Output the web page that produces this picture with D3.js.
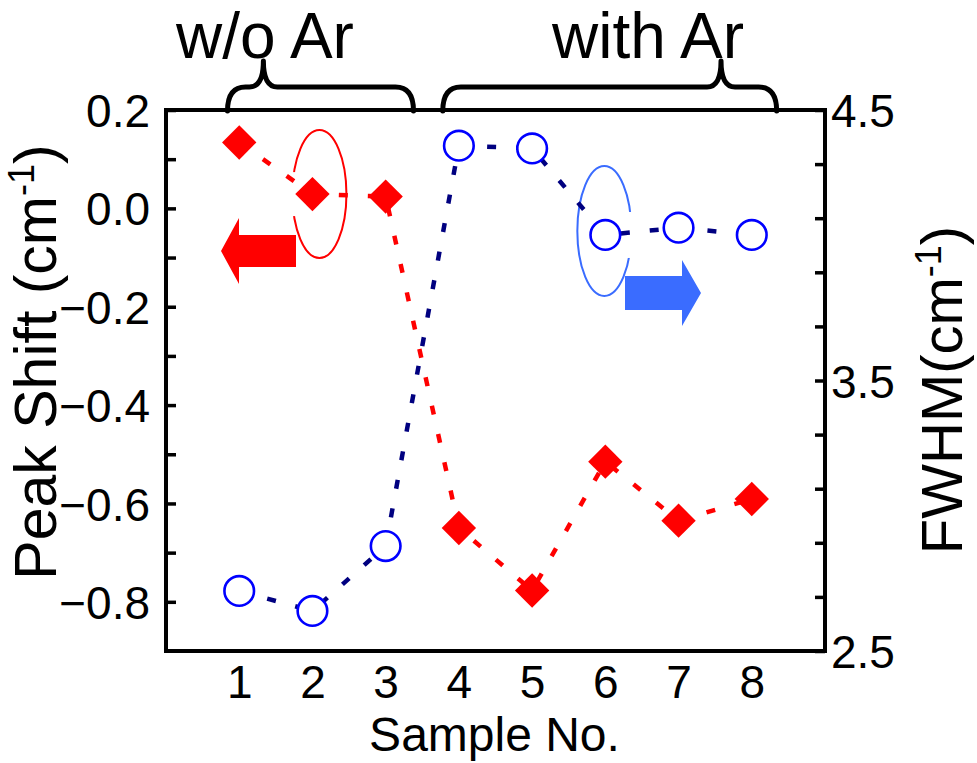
<!DOCTYPE html>
<html>
<head>
<meta charset="utf-8">
<script src="https://cdn.jsdelivr.net/npm/d3@7"></script>
<style>
  html, body { margin: 0; padding: 0; background: #fff; }
  svg { display: block; font-family: "Liberation Sans", Arial, sans-serif; }
</style>
</head>
<body>
<svg id="chart" width="977" height="763"></svg>
<script>
// ---- data ----
const samples   = [1, 2, 3, 4, 5, 6, 7, 8];
const peakShift = [0.134, 0.029, 0.024, -0.650, -0.777, -0.515, -0.635, -0.591];
const fwhm      = [2.722, 2.648, 2.888, 4.368, 4.358, 4.038, 4.065, 4.038];
const xTickLabels = ["1", "2", "3", "4", "5", "6", "7", "8"];
const leftTicks  = [0.2, 0.1, 0.0, -0.1, -0.2, -0.3, -0.4, -0.5, -0.6, -0.7, -0.8];
const leftLabels = [0.2, 0.0, -0.2, -0.4, -0.6, -0.8];
const rightTicks  = [4.5, 4.3, 4.1, 3.9, 3.7, 3.5, 3.3, 3.1, 2.9, 2.7, 2.5];
const rightLabels = [4.5, 3.5, 2.5];
const groups = [
  { label: "w/o Ar",  from: 0.84, to: 3.38, cusp: 1.33 },
  { label: "with Ar", from: 3.78, to: 8.34, cusp: 7.58 }
];

// ---- layout ----
const L = 166, R = 825, T = 110, B = 651;
const svg = d3.select("#chart");

const x  = d3.scaleLinear().domain([0, 9]).range([L, R]);
const yL = d3.scaleLinear().domain([-0.9, 0.2]).range([B, T]);
const yR = d3.scaleLinear().domain([2.5, 4.5]).range([B, T]);

// ---- annotation ellipses (behind data) ----
const redEll = { cx: x(2) + 7, cy: yL(peakShift[1]), rx: 27, ry: 64 };
svg.append("ellipse").attr("cx", redEll.cx).attr("cy", redEll.cy)
  .attr("rx", redEll.rx).attr("ry", redEll.ry)
  .attr("fill", "none").attr("stroke", "#ff0000").attr("stroke-width", 2);
svg.append("rect").attr("x", redEll.cx - redEll.rx - 5).attr("y", redEll.cy - 22)
  .attr("width", 10).attr("height", 44).attr("fill", "#fff");

const bluEll = { cx: x(6) - 1, cy: yR(fwhm[5]) - 4, rx: 27, ry: 65 };
svg.append("ellipse").attr("cx", bluEll.cx).attr("cy", bluEll.cy)
  .attr("rx", bluEll.rx).attr("ry", bluEll.ry)
  .attr("fill", "none").attr("stroke", "#3a6cff").attr("stroke-width", 2);
svg.append("rect").attr("x", bluEll.cx + bluEll.rx - 5).attr("y", yR(fwhm[5]) - 23)
  .attr("width", 10).attr("height", 46).attr("fill", "#fff");

// ---- arrows ----
function arrowPath(tipX, tipY, dir, headLen, headHalf, shaftLen, shaftHalf) {
  const hb = tipX - dir * headLen, tail = hb - dir * shaftLen;
  return `M${tipX},${tipY} L${hb},${tipY - headHalf} L${hb},${tipY - shaftHalf} L${tail},${tipY - shaftHalf}` +
         ` L${tail},${tipY + shaftHalf} L${hb},${tipY + shaftHalf} L${hb},${tipY + headHalf} Z`;
}
svg.append("path").attr("d", arrowPath(221, 251, -1, 18, 33, 57, 16)).attr("fill", "#ff0000");
svg.append("path").attr("d", arrowPath(701, 293, 1, 19, 33, 57, 17)).attr("fill", "#3a6cff");

// ---- lines ----
const redLine = d3.line().x((d, i) => x(samples[i])).y(d => yL(d));
const bluLine = d3.line().x((d, i) => x(samples[i])).y(d => yR(d));

svg.append("path").attr("d", redLine(peakShift)).attr("fill", "none")
  .attr("stroke", "#ff0000").attr("stroke-width", 4.5).attr("stroke-dasharray", "9,20");
svg.append("path").attr("d", bluLine(fwhm)).attr("fill", "none")
  .attr("stroke", "#000080").attr("stroke-width", 4.5).attr("stroke-dasharray", "9,20");

// ---- markers ----
const diamond = d3.symbol().type(d3.symbolSquare).size(590);
svg.selectAll(".dia").data(peakShift).enter().append("path")
  .attr("d", diamond)
  .attr("transform", (d, i) => `translate(${x(samples[i])},${yL(d)}) rotate(45)`)
  .attr("fill", "#ff0000");

svg.selectAll(".circ").data(fwhm).enter().append("circle")
  .attr("cx", (d, i) => x(samples[i])).attr("cy", d => yR(d)).attr("r", 14.8)
  .attr("fill", "#fff").attr("stroke", "#0000ff").attr("stroke-width", 2.6);

// ---- frame ----
svg.append("rect").attr("x", L).attr("y", T).attr("width", R - L).attr("height", B - T)
  .attr("fill", "none").attr("stroke", "#000").attr("stroke-width", 4);

// ---- axes ----
const fmt = d3.format(".1f");
const axL = d3.axisLeft(yL).tickValues(leftTicks).tickSize(-10).tickPadding(16)
  .tickFormat(d => leftLabels.some(v => Math.abs(v - d) < 1e-9) ? fmt(d) : "");
const gL = svg.append("g").attr("transform", `translate(${L},0)`).call(axL);
const axR = d3.axisRight(yR).tickValues(rightTicks).tickSize(-10).tickPadding(6)
  .tickFormat(d => rightLabels.some(v => Math.abs(v - d) < 1e-9) ? fmt(d) : "");
const gR = svg.append("g").attr("transform", `translate(${R},0)`).call(axR);
const axB = d3.axisBottom(x).tickValues(samples).tickSize(0).tickPadding(14)
  .tickFormat((d, i) => xTickLabels[i]);
const gB = svg.append("g").attr("transform", `translate(0,${B})`).call(axB);

[gL, gR, gB].forEach(g => {
  g.select(".domain").remove();
  g.selectAll(".tick line").attr("stroke", "#000").attr("stroke-width", 3.5);
  g.selectAll(".tick text").attr("fill", "#000").style("font-size", "46px")
    .style("font-family", "'Liberation Sans', Arial, sans-serif");
});
gB.selectAll(".tick text").style("font-size", "46px");
gL.selectAll(".tick text").attr("dy", "0.36em");
gR.selectAll(".tick text").attr("dy", "0.36em");
gB.selectAll(".tick text").attr("dy", "0.72em");

// ---- axis titles ----
svg.append("text").attr("x", x(4.5) - 1).attr("y", 751).attr("text-anchor", "middle")
  .style("font-size", "48px").text("Sample No.");

const tL = svg.append("text").attr("transform", `translate(56,362) rotate(-90)`)
  .attr("text-anchor", "middle").style("font-size", "59px");
tL.append("tspan").text("Peak Shift (cm");
tL.append("tspan").attr("dy", -22).style("font-size", "36px").text("-1");
tL.append("tspan").attr("dy", 22).text(")");

const tR = svg.append("text").attr("transform", `translate(962,390) rotate(-90)`)
  .attr("text-anchor", "middle").style("font-size", "58px");
tR.append("tspan").text("FWHM(cm");
tR.append("tspan").attr("dy", -21).style("font-size", "36px").text("-1");
tR.append("tspan").attr("dy", 21).text(")");

// ---- group braces ----
function bracePath(x0, x1, xc, yBase, yMid, yTip, re, rc) {
  return `M${x0},${yBase} Q${x0},${yMid} ${x0 + re},${yMid} L${xc - rc},${yMid}` +
         ` Q${xc},${yMid} ${xc},${yTip} Q${xc},${yMid} ${xc + rc},${yMid}` +
         ` L${x1 - re},${yMid} Q${x1},${yMid} ${x1},${yBase}`;
}
groups.forEach(g => {
  svg.append("path").attr("d", bracePath(x(g.from), x(g.to), x(g.cusp), T + 1, 87, 61, 18, 14))
    .attr("fill", "none").attr("stroke", "#000").attr("stroke-width", 5)
    .attr("stroke-linecap", "round").attr("stroke-linejoin", "round");
});
svg.append("text").attr("x", 265).attr("y", 58).attr("text-anchor", "middle")
  .style("font-size", "64px").text(groups[0].label);
svg.append("text").attr("x", 648).attr("y", 58).attr("text-anchor", "middle")
  .style("font-size", "64px").text(groups[1].label);
</script>
</body>
</html>
